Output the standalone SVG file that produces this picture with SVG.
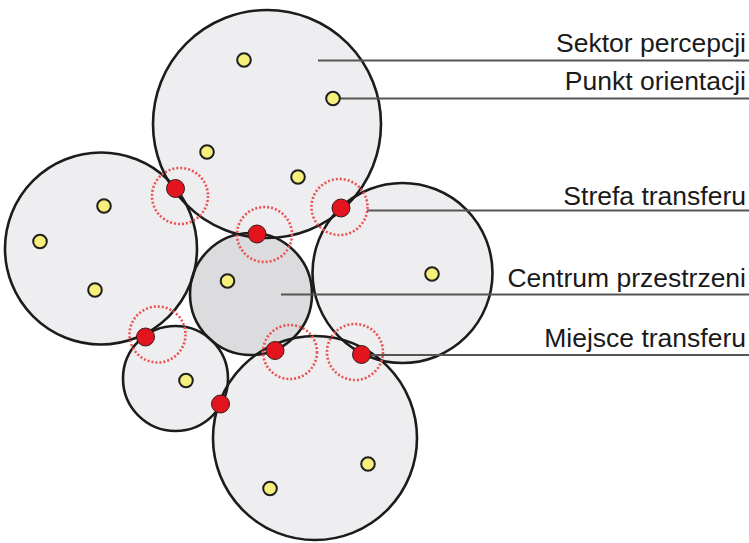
<svg xmlns="http://www.w3.org/2000/svg" width="749" height="543" viewBox="0 0 749 543">
<style>
.fill{fill:#eeeef0;stroke:none}
.fillc{fill:#dcdcde;stroke:none}
.edge{fill:none;stroke:#1c1c1c;stroke-width:2.6}
.zone{fill:none;stroke:#ea5252;stroke-width:2.6;stroke-dasharray:2 2}
.poi{fill:#f6ef7c;stroke:#1e1e1e;stroke-width:2}
.tp{fill:#e3141d;stroke:#3a1a1a;stroke-width:1}
.lead{stroke:#555;stroke-width:2;fill:none}
.lbl{font-family:"Liberation Sans",Arial,sans-serif;font-size:26.5px;fill:#1a1a1a;text-anchor:end}
</style>
<rect width="749" height="543" fill="#ffffff"/>
<g id="fills">
<circle class="fill" cx="267" cy="124" r="114"/>
<circle class="fill" cx="101" cy="248.5" r="96"/>
<circle class="fill" cx="402.5" cy="273" r="90"/>
<circle class="fill" cx="175.5" cy="378.5" r="52.5"/>
<circle class="fill" cx="315" cy="438" r="102"/>
<circle class="fillc" cx="251" cy="294" r="61"/>
</g>
<g id="sektor-top"><circle class="edge" cx="267" cy="124" r="114"/></g>
<g id="sektor-left"><circle class="edge" cx="101" cy="248.5" r="96"/></g>
<g id="sektor-right"><circle class="edge" cx="402.5" cy="273" r="90"/></g>
<g id="sektor-small"><circle class="edge" cx="175.5" cy="378.5" r="52.5"/></g>
<g id="sektor-bottom"><circle class="edge" cx="315" cy="438" r="102"/></g>
<g id="centrum"><circle class="edge" cx="251" cy="294" r="61"/></g>
<g id="connectors">
<line class="lead" x1="318" y1="60.5" x2="749" y2="60.5"/>
<line class="lead" x1="339" y1="98.5" x2="749" y2="98.5"/>
<line class="lead" x1="367" y1="210.5" x2="749" y2="210.5"/>
<line class="lead" x1="281" y1="294.5" x2="749" y2="294.5"/>
<line class="lead" x1="362" y1="355" x2="749" y2="355"/>
</g>
<g id="strefy">
<circle class="zone" cx="180" cy="196" r="28"/>
<circle class="zone" cx="264.5" cy="234.5" r="27.5"/>
<circle class="zone" cx="339.5" cy="207" r="28"/>
<circle class="zone" cx="157.5" cy="334.5" r="28"/>
<circle class="zone" cx="290" cy="352" r="27"/>
<circle class="zone" cx="355" cy="352" r="28"/>
</g>
<g id="punkty">
<circle class="poi" cx="244" cy="60" r="6.8"/>
<circle class="poi" cx="333" cy="98.5" r="6.8"/>
<circle class="poi" cx="207" cy="152" r="6.8"/>
<circle class="poi" cx="298" cy="177" r="6.8"/>
<circle class="poi" cx="104" cy="206" r="6.8"/>
<circle class="poi" cx="40" cy="241.5" r="6.8"/>
<circle class="poi" cx="95" cy="290" r="6.8"/>
<circle class="poi" cx="227.5" cy="281" r="6.8"/>
<circle class="poi" cx="432" cy="274" r="6.8"/>
<circle class="poi" cx="186" cy="380.5" r="6.8"/>
<circle class="poi" cx="368" cy="464" r="6.8"/>
<circle class="poi" cx="270" cy="488.5" r="6.8"/>
</g>
<g id="miejsca">
<circle class="tp" cx="175.5" cy="188.5" r="9"/>
<circle class="tp" cx="257" cy="234" r="9"/>
<circle class="tp" cx="341" cy="208" r="9"/>
<circle class="tp" cx="145.5" cy="337" r="9"/>
<circle class="tp" cx="275" cy="350.5" r="9"/>
<circle class="tp" cx="361.5" cy="354.5" r="9"/>
<circle class="tp" cx="220.5" cy="404" r="9"/>
</g>
<g id="labels">
<text class="lbl" x="746" y="52">Sektor percepcji</text>
<text class="lbl" x="746" y="90">Punkt orientacji</text>
<text class="lbl" x="746" y="205">Strefa transferu</text>
<text class="lbl" x="746" y="287">Centrum przestrzeni</text>
<text class="lbl" x="746" y="347">Miejsce transferu</text>
</g>
</svg>
